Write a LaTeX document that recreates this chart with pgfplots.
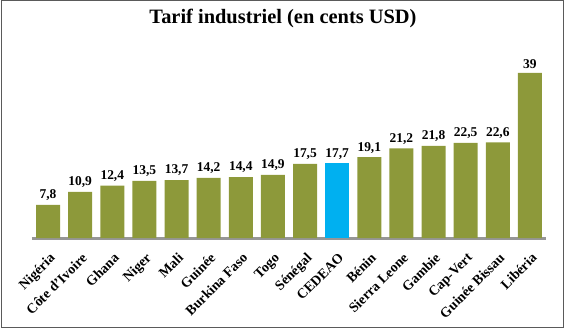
\documentclass[border=0pt]{standalone}
\usepackage{pgfplots}
\pgfplotsset{compat=1.18}
\usepackage{fontspec}
\setmainfont{Liberation Serif}
\usetikzlibrary{calc}
\definecolor{olive1}{RGB}{141,153,58}
\definecolor{cyan1}{RGB}{0,176,240}
\definecolor{axgray}{RGB}{150,150,150}
\definecolor{frame1}{RGB}{90,90,90}
\pgfplotstableread{
x y
0 7.8
1 10.9
2 12.4
3 13.5
4 13.7
5 14.2
6 14.4
7 14.9
8 17.5
10 19.1
11 21.2
12 21.8
13 22.5
14 22.6
15 39
}\olivedata
\pgfplotstableread{
x y
9 17.7
}\cyandata
\begin{document}
\begin{tikzpicture}[x=1bp,y=1bp]
\begin{axis}[
  at={(0,0)}, anchor=south west,
  scale only axis,
  width=514bp, height=190.4bp,
  xmin=-0.5, xmax=15.5, ymin=0, ymax=45,
  axis x line*=bottom,
  axis y line=none,
  x axis line style={line width=3bp, axgray, -},
  xtick={0,...,15},
  xticklabels={Nigéria,Côte d'Ivoire,Ghana,Niger,Mali,Guinée,Burkina Faso,Togo,Sénégal,CEDEAO,Bénin,Sierra Leone,Gambie,Cap-Vert,Guinée Bissau,Libéria},
  major tick length=0pt,
  x tick label style={rotate=45, anchor=north east, font=\bfseries\fontsize{14}{14}\selectfont, yshift=-7bp, xshift=-6bp},
  ybar, bar width=24bp, bar shift=0pt,
  clip=false,
  /pgf/number format/assume math mode=true,
  nodes near coords={\pgfmathprintnumber[use comma, fixed, precision=1]{\pgfplotspointmeta}},
  nodes near coords style={font=\bfseries\fontsize{13.5}{13.5}\selectfont, black, yshift=0.5bp},
]
\addplot[fill=olive1, draw=none] table[x=x,y=y] {\olivedata};
\addplot[fill=cyan1, draw=none] table[x=x,y=y] {\cyandata};
\coordinate (bl) at (rel axis cs:0,0);
\end{axis}
\draw[frame1, line width=1bp] ($(bl)+(-30bp,-89bp)$) rectangle ($(bl)+(531bp,237bp)$);
\node[font=\bfseries\fontsize{20.5}{20.5}\selectfont] at ($(bl)+(251bp,220bp)$) {Tarif industriel (en cents USD)};
\pgfresetboundingbox
\path[use as bounding box] ($(bl)+(-32bp,-92bp)$) rectangle ($(bl)+(535bp,238bp)$);
\end{tikzpicture}
\end{document}
